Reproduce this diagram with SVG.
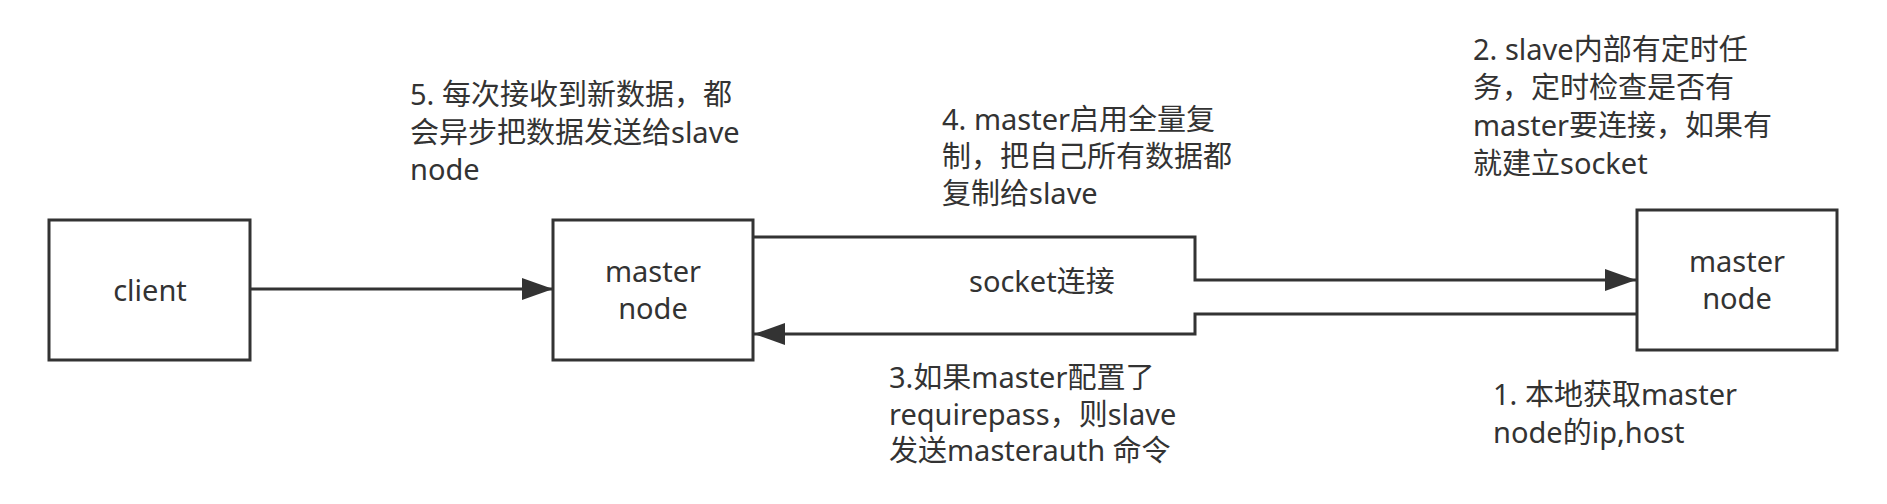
<svg xmlns="http://www.w3.org/2000/svg" width="1887" height="504" viewBox="0 0 1887 504">
<style>
.box{fill:#ffffff;stroke:#333333;stroke-width:3}
.edge{fill:none;stroke:#333333;stroke-width:3}
text{font-family:"Noto Sans","Noto Sans CJK SC",sans-serif;font-size:29px;fill:#333333}
.c{text-anchor:middle}
</style>
<defs>
<marker id="arr" markerUnits="userSpaceOnUse" markerWidth="34" markerHeight="24" refX="31" refY="11" orient="auto">
<path d="M0,0 L31,11 L0,22 z" fill="#333333"/>
</marker>
</defs>
<rect width="1887" height="504" fill="#ffffff"/>
<g id="connectors">
<path class="edge" d="M250,289 L553,289" marker-end="url(#arr)"/>
<path class="edge" d="M753,237 L1195,237 L1195,280 L1636,280" marker-end="url(#arr)"/>
<path class="edge" d="M1637,314 L1195,314 L1195,334 L754,334" marker-end="url(#arr)"/>
</g>
<g id="client">
<rect class="box" x="49" y="220" width="201" height="140"/>
<text class="c" x="150" y="301">client</text>
</g>
<g id="master1">
<rect class="box" x="553" y="220" width="200" height="140"/>
<text class="c" x="653" y="282">master</text>
<text class="c" x="653" y="319">node</text>
</g>
<g id="master2">
<rect class="box" x="1637" y="210" width="200" height="140"/>
<text class="c" x="1737" y="272">master</text>
<text class="c" x="1737" y="309">node</text>
</g>
<g id="label-socket">
<text x="969" y="292">socket连接</text>
</g>
<g id="label5">
<text x="410" y="105">5. 每次接收到新数据，都</text>
<text x="410" y="143">会异步把数据发送给slave</text>
<text x="410" y="180">node</text>
</g>
<g id="label4">
<text x="942" y="130">4. master启用全量复</text>
<text x="942" y="167">制，把自己所有数据都</text>
<text x="942" y="204">复制给slave</text>
</g>
<g id="label2">
<text x="1473" y="60">2. slave内部有定时任</text>
<text x="1473" y="98">务，定时检查是否有</text>
<text x="1473" y="136">master要连接，如果有</text>
<text x="1473" y="174">就建立socket</text>
</g>
<g id="label3">
<text x="889" y="388">3.如果master配置了</text>
<text x="889" y="425">requirepass，则slave</text>
<text x="889" y="461">发送masterauth 命令</text>
</g>
<g id="label1">
<text x="1493" y="405">1. 本地获取master</text>
<text x="1493" y="443">node的ip,host</text>
</g>
</svg>
